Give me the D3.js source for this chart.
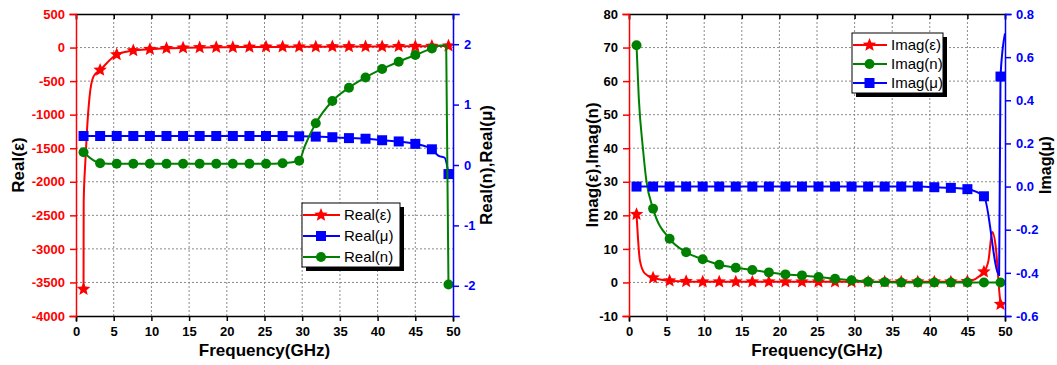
<!DOCTYPE html>
<html>
<head>
<meta charset="utf-8">
<script src="https://cdn.jsdelivr.net/npm/d3@7"></script>
<style>
body { margin: 0; background: #fff; }
text { font-family: "Liberation Sans", Arial, sans-serif; }
</style>
</head>
<body>
<div id="container"></div>
<script>
// marker frequencies (GHz), same for every series
const freq = [1, 3.2, 5.4, 7.6, 9.8, 12, 14.2, 16.4, 18.6, 20.8, 23, 25.2, 27.4, 29.6, 31.8, 34, 36.2, 38.4, 40.6, 42.8, 45, 47.2, 49.4];

const realEps = [-3600, -335, -105, -45, -25, -12, -5, 0, 3, 5, 8, 10, 10, 12, 12, 14, 15, 15, 16, 18, 20, 22, 25];
const realMu = [0.48, 0.48, 0.48, 0.48, 0.48, 0.48, 0.48, 0.48, 0.48, 0.48, 0.48, 0.48, 0.48, 0.475, 0.47, 0.46, 0.445, 0.435, 0.41, 0.39, 0.35, 0.26, -0.15];
const realN = [0.21, 0.03, 0.02, 0.02, 0.02, 0.02, 0.02, 0.02, 0.02, 0.02, 0.02, 0.02, 0.03, 0.07, 0.69, 1.06, 1.28, 1.45, 1.59, 1.71, 1.82, 1.93, -1.98];

const imagEps = [20.3, 1.4, 0.5, 0.3, 0.2, 0.2, 0.2, 0.2, 0.2, 0.2, 0.2, 0.2, 0.2, 0.2, 0.2, 0.2, 0.2, 0.2, 0.2, 0.2, 0.3, 3.2, -6.5];
const imagN = [70.7, 22, 13, 9, 6.9, 5.3, 4.4, 3.7, 3.0, 2.4, 2.1, 1.6, 1.1, 0.65, 0.2, 0.1, 0, 0, 0, 0, 0, 0, 0];
const imagMu = [0, 0, 0, 0, 0, 0, 0, 0, 0, 0, 0, 0, 0, 0, 0, 0, 0, 0, -0.003, -0.006, -0.012, -0.045, 0.51];

// line-only points between markers (the curves are denser than the markers)
const realEpsExtra = [[1.02, -2300], [1.23, -1720], [1.46, -1230], [1.8, -730], [2.33, -430]];
const realMuExtra = [[48.1, 0.15], [48.9, 0.12]];
const realNExtra = [[30.3, 0.3], [48.3, 1.98], [49.1, 1.98]];
const imagEpsExtra = [[1.2, 13], [1.45, 6.5], [2.1, 2.7], [47.8, 6.5], [48.3, 15], [48.8, 10], [49.25, -3]];
const imagNExtra = [[1.3, 55], [1.85, 40], [2.3, 30.5]];
const imagMuExtra = [[49.22, -0.41], [50, 0.71]];

const w = 1057, h = 365;
const RED = "#ff0000", BLUE = "#0000ff", GREEN = "#008000";

const svg = d3.select("#container")
    .append("svg")
    .attr("width", w)
    .attr("height", h);

function pts(vals, extra) {
    return freq.map((f, i) => [f, vals[i]])
        .concat(extra)
        .sort((a, b) => a[0] - b[0]);
}

function steps(a, b, s) {
    return d3.range(Math.round((b - a) / s) + 1).map((i) => +(a + i * s).toFixed(4));
}

// plain hyphen for negatives, like the original
const hyph = (f) => (d) => f(d).replace("\u2212", "-");

// fatter five point star than d3.symbolStar
const fatStar = {
    draw(ctx, size) {
        const R = Math.sqrt(size), r = R * 0.45;
        for (let i = 0; i < 10; i++) {
            const a = -Math.PI / 2 + i * Math.PI / 5;
            const rr = i % 2 ? r : R;
            if (i === 0) ctx.moveTo(rr * Math.cos(a), rr * Math.sin(a));
            else ctx.lineTo(rr * Math.cos(a), rr * Math.sin(a));
        }
        ctx.closePath();
    }
};

const markers = {
    star: d3.symbol().type(fatStar).size(50),
    square: d3.symbol().type(d3.symbolSquare).size(100),
    circle: d3.symbol().type(d3.symbolCircle).size(78)
};

function drawPanel(p, idx) {
    const x = d3.scaleLinear().domain([0, 50]).range([p.x0, p.x1]);
    const y = d3.scaleLinear().domain(p.yDomain).range([p.y1, p.y0]);
    const y2 = d3.scaleLinear().domain(p.y2Domain).range([p.y1, p.y0]);

    const g = svg.append("g");

    g.append("clipPath").attr("id", "clip" + idx)
        .append("rect")
        .attr("x", p.x0).attr("y", p.y0)
        .attr("width", p.x1 - p.x0).attr("height", p.y1 - p.y0);

    // dotted grid
    const xMajor = steps(0, 50, 5);
    const yMajor = steps(p.yDomain[0], p.yDomain[1], p.yStep);
    g.selectAll(".gx").data(xMajor.slice(1, -1)).enter().append("line")
        .attr("x1", (d) => x(d)).attr("x2", (d) => x(d))
        .attr("y1", p.y0).attr("y2", p.y1)
        .attr("stroke", "#8a8a8a").attr("stroke-width", 1).attr("stroke-dasharray", "2,2");
    g.selectAll(".gy").data(yMajor.slice(1, -1)).enter().append("line")
        .attr("y1", (d) => y(d)).attr("y2", (d) => y(d))
        .attr("x1", p.x0).attr("x2", p.x1)
        .attr("stroke", "#8a8a8a").attr("stroke-width", 1).attr("stroke-dasharray", "2,2");

    // series
    const plot = g.append("g").attr("clip-path", "url(#clip" + idx + ")");
    p.series.forEach((s) => {
        const sy = s.axis === 2 ? y2 : y;
        const line = d3.line()
            .x((d) => x(d[0]))
            .y((d) => sy(d[1]))
            .curve(d3.curveMonotoneX);
        plot.append("path")
            .attr("d", line(pts(s.values, s.extra)))
            .attr("fill", "none")
            .attr("stroke", s.color)
            .attr("stroke-width", 2);
        plot.selectAll(null)
            .data(freq.map((f, i) => [f, s.values[i]]))
            .enter()
            .append("path")
            .attr("d", markers[s.marker])
            .attr("transform", (d) => "translate(" + x(d[0]) + "," + sy(d[1]) + ")")
            .attr("fill", s.color);
    });

    // axes
    const fs = "13px";
    const bottom = g.append("g").attr("transform", "translate(0," + p.y1 + ")");
    bottom.call(d3.axisBottom(x).tickValues(steps(2.5, 47.5, 5)).tickSize(3).tickFormat(""));
    bottom.call(d3.axisBottom(x).tickValues(xMajor).tickSize(5).tickPadding(6).tickFormat(d3.format("d")));
    const top = g.append("g").attr("transform", "translate(0," + p.y0 + ")");
    top.call(d3.axisTop(x).tickValues(steps(2.5, 47.5, 5)).tickSize(-3).tickFormat(""));
    top.call(d3.axisTop(x).tickValues(xMajor).tickSize(-5).tickFormat(""));
    [bottom, top].forEach((a) => {
        a.selectAll("path, line").attr("stroke", "#000").attr("stroke-width", 1.5);
        a.selectAll("text").attr("fill", "#000").style("font-size", fs).style("font-weight", "bold");
    });

    const left = g.append("g").attr("transform", "translate(" + p.x0 + ",0)");
    left.call(d3.axisLeft(y).tickValues(steps(p.yDomain[0], p.yDomain[1], p.yStep / 2)).tickSize(3).tickFormat(""));
    left.call(d3.axisLeft(y).tickValues(yMajor).tickSize(6).tickPadding(5).tickFormat(hyph(d3.format("d"))));
    left.selectAll("path, line").attr("stroke", RED).attr("stroke-width", 1.5);
    left.selectAll("text").attr("fill", p.leftLabelColor).style("font-size", fs).style("font-weight", "bold");

    const right = g.append("g").attr("transform", "translate(" + p.x1 + ",0)");
    right.call(d3.axisRight(y2).tickValues(p.y2Minor).tickSize(3).tickFormat(""));
    right.call(d3.axisRight(y2).tickValues(p.y2Major).tickSize(6).tickPadding(5).tickFormat(hyph(p.y2Format)));
    right.selectAll("path, line").attr("stroke", BLUE).attr("stroke-width", 1.5);
    right.selectAll("text").attr("fill", BLUE).style("font-size", fs).style("font-weight", "bold");
    g.selectAll(".domain").attr("stroke-linecap", "square");

    // titles
    g.append("text")
        .attr("x", (p.x0 + p.x1) / 2).attr("y", 356)
        .attr("text-anchor", "middle")
        .style("font-size", "17px").style("font-weight", "bold")
        .text("Frequency(GHz)");
    g.append("text")
        .attr("transform", "translate(" + p.yTitleX + "," + ((p.y0 + p.y1) / 2) + ") rotate(-90)")
        .attr("text-anchor", "middle").attr("dy", "0.35em")
        .style("font-size", "17px").style("font-weight", "bold")
        .text(p.yTitle);
    g.append("text")
        .attr("transform", "translate(" + p.y2TitleX + "," + ((p.y0 + p.y1) / 2) + ") rotate(-90)")
        .attr("text-anchor", "middle").attr("dy", "0.35em")
        .style("font-size", p.y2TitleSize).style("font-weight", "bold")
        .text(p.y2Title);

    // legend with drop shadow
    const L = p.legend;
    const lg = g.append("g").attr("transform", "translate(" + L.x + "," + L.y + ")");
    lg.append("rect").attr("x", 4).attr("y", 4).attr("width", L.w).attr("height", L.h).attr("fill", "#000");
    lg.append("rect").attr("width", L.w).attr("height", L.h).attr("fill", "#fff").attr("stroke", "#000").attr("stroke-width", 1);
    p.series.forEach((s, i) => {
        const ry = L.first + i * L.gap;
        lg.append("line")
            .attr("x1", 1).attr("x2", L.lineW).attr("y1", ry).attr("y2", ry)
            .attr("stroke", s.color).attr("stroke-width", 2);
        lg.append("path")
            .attr("d", markers[s.marker])
            .attr("transform", "translate(" + (L.lineW / 2) + "," + ry + ")")
            .attr("fill", s.color);
        lg.append("text")
            .attr("x", L.lineW + 4).attr("y", ry).attr("dy", "0.35em")
            .style("font-size", "15px")
            .text(s.name);
    });
}

const panels = [
    {
        x0: 76, x1: 453, y0: 14, y1: 316,
        yDomain: [-4000, 500], yStep: 500,
        y2Domain: [-2.5, 2.5],
        y2Major: [-2, -1, 0, 1, 2],
        y2Minor: [-2.5, -1.5, -0.5, 0.5, 1.5, 2.5],
        y2Format: d3.format("d"),
        leftLabelColor: RED,
        yTitle: "Real(ε)", yTitleX: 18,
        y2Title: "Real(n),Real(μ)", y2TitleX: 486, y2TitleSize: "17px",
        legend: {x: 302, y: 203, w: 98, h: 64, first: 12, gap: 21, lineW: 38},
        series: [
            {name: "Real(ε)", values: realEps, extra: realEpsExtra, color: RED, marker: "star", axis: 1},
            {name: "Real(μ)", values: realMu, extra: realMuExtra, color: BLUE, marker: "square", axis: 2},
            {name: "Real(n)", values: realN, extra: realNExtra, color: GREEN, marker: "circle", axis: 2}
        ]
    },
    {
        x0: 629, x1: 1005, y0: 14, y1: 316,
        yDomain: [-10, 80], yStep: 10,
        y2Domain: [-0.6, 0.8],
        y2Major: steps(-0.6, 0.8, 0.2),
        y2Minor: steps(-0.5, 0.7, 0.2),
        y2Format: d3.format(".1f"),
        leftLabelColor: "#000",
        yTitle: "Imag(ε),Imag(n)", yTitleX: 592,
        y2Title: "Imag(μ)", y2TitleX: 1045, y2TitleSize: "16px",
        legend: {x: 852, y: 33, w: 91, h: 60, first: 12, gap: 19, lineW: 35},
        series: [
            {name: "Imag(ε)", values: imagEps, extra: imagEpsExtra, color: RED, marker: "star", axis: 1},
            {name: "Imag(n)", values: imagN, extra: imagNExtra, color: GREEN, marker: "circle", axis: 1},
            {name: "Imag(μ)", values: imagMu, extra: imagMuExtra, color: BLUE, marker: "square", axis: 2}
        ]
    }
];

panels.forEach(drawPanel);
</script>
</body>
</html>
